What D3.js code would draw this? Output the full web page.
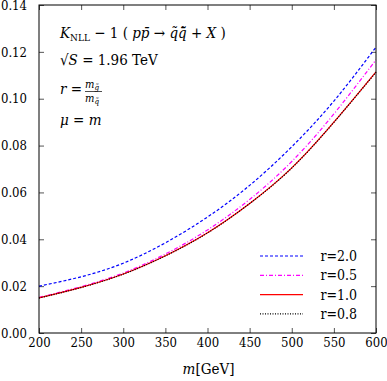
<!DOCTYPE html>
<meta charset="utf-8">
<style>
  body { margin: 0; background: #fff; }
  svg text { font-family: "DejaVu Serif Condensed", "DejaVu Serif", serif !important; font-stretch: condensed; }
</style>
<body>
<div class="chart"></div>
<script src="https://d3js.org/d3.v7.min.js"></script>
<script>
// m in GeV
const masses = [200, 250, 300, 350, 400, 450, 500, 550, 600];
// K_NLL - 1 for each mass ratio r
const r20 = [0.0200, 0.0240, 0.0298, 0.0385, 0.0495, 0.0630, 0.0795, 0.0990, 0.1220];
const r05 = [0.0152, 0.0198, 0.0256, 0.0337, 0.0440, 0.0570, 0.0732, 0.0935, 0.1166];
const r10 = [0.0150, 0.0195, 0.0252, 0.0330, 0.0428, 0.0553, 0.0705, 0.0900, 0.1115];
const r08 = [0.0149, 0.0194, 0.0251, 0.0329, 0.0427, 0.0552, 0.0704, 0.0899, 0.1113];
const xTicks = [200, 250, 300, 350, 400, 450, 500, 550, 600];
const yTicks = [0, 0.02, 0.04, 0.06, 0.08, 0.10, 0.12, 0.14];

const series = [
  {label: "r=2.0", values: r20, color: "#0000ff", dash: "3,2"},
  {label: "r=0.5", values: r05, color: "#ff00ff", dash: "4,2,1,2"},
  {label: "r=1.0", values: r10, color: "#ff0000", dash: null},
  {label: "r=0.8", values: r08, color: "#000000", dash: "1,1.5"}
];

const width = 387, height = 381;
const margin = {top: 5, right: 11, bottom: 48, left: 39};
const w = width - margin.left - margin.right;
const h = height - margin.top - margin.bottom;

const svg = d3.select(".chart").append("svg")
  .attr("width", width)
  .attr("height", height);

const g = svg.append("g")
  .attr("transform", `translate(${margin.left},${margin.top})`);

const x = d3.scaleLinear().domain([200, 600]).range([0, w]);
const y = d3.scaleLinear().domain([0, 0.14]).range([h, 0]);

// axes, ticks pointing inward
const styleAxis = sel => {
  sel.select(".domain").remove();
  sel.selectAll(".tick line").attr("stroke", "#555");
  sel.selectAll(".tick text").attr("font-size", 13).attr("fill", "#000");
};

g.append("g").attr("transform", `translate(0,${h})`)
  .call(d3.axisBottom(x).tickValues(xTicks).tickSize(-5).tickPadding(5).tickFormat(d3.format("d")))
  .call(styleAxis);
g.append("g")
  .call(d3.axisTop(x).tickValues(xTicks).tickSize(-5).tickFormat(""))
  .call(styleAxis);
g.append("g")
  .call(d3.axisLeft(y).tickValues(yTicks).tickSize(-5).tickPadding(12).tickFormat(d3.format(".2f")))
  .call(styleAxis);
g.append("g").attr("transform", `translate(${w},0)`)
  .call(d3.axisRight(y).tickValues(yTicks).tickSize(-5).tickFormat(""))
  .call(styleAxis);

// curves
const line = d3.line()
  .x((d, i) => x(masses[i]))
  .y(d => y(d))
  .curve(d3.curveNatural);

g.append("g").attr("fill", "none")
  .selectAll("path")
  .data(series)
  .join("path")
  .attr("d", d => line(d.values))
  .attr("stroke", d => d.color)
  .attr("stroke-width", 1.2)
  .attr("stroke-dasharray", d => d.dash);

// frame
g.append("rect")
  .attr("width", w).attr("height", h)
  .attr("fill", "none").attr("stroke", "#000").attr("stroke-width", 1);

// legend
const legend = g.append("g").attr("transform", "translate(221,251)")
  .selectAll("g")
  .data(series)
  .join("g")
  .attr("transform", (d, i) => `translate(0,${i * 19.3})`);
legend.append("line")
  .attr("x1", 0).attr("x2", 43)
  .attr("stroke", d => d.color)
  .attr("stroke-width", 1.2)
  .attr("stroke-dasharray", d => d.dash);
legend.append("text")
  .attr("x", 97).attr("y", 5)
  .attr("text-anchor", "end")
  .attr("font-size", 14)
  .text(d => d.label);

// annotation
const ann = g.append("g").attr("font-size", 15);
const t1 = ann.append("text").attr("x", 21).attr("y", 33);
t1.append("tspan").attr("font-style", "italic").text("K");
t1.append("tspan").attr("font-size", 10).attr("dy", 3).text("NLL");
t1.append("tspan").attr("dy", -3).text(" \u2212 1 ( ");
t1.append("tspan").attr("font-style", "italic").text("pp\u0304");
t1.append("tspan").text(" \u2192 ");
t1.append("tspan").attr("font-style", "italic").text("q\u0303q\u0303\u0304");
t1.append("tspan").text(" + ");
t1.append("tspan").attr("font-style", "italic").text("X");
t1.append("tspan").text(" )");

const t2 = ann.append("text").attr("x", 21).attr("y", 60);
t2.append("tspan").text("\u221A");
t2.append("tspan").attr("font-style", "italic").text("S");
t2.append("tspan").text(" = 1.96 TeV");

const t3 = ann.append("text").attr("x", 21).attr("y", 89);
t3.append("tspan").attr("font-style", "italic").text("r");
t3.append("tspan").text(" =");
const fr = ann.append("g").attr("transform", "translate(46,0)");
const num = fr.append("text").attr("x", 0).attr("y", 83).attr("font-size", 11);
num.append("tspan").attr("font-style", "italic").text("m");
num.append("tspan").attr("font-style", "italic").attr("font-size", 8).attr("dy", 2).text("g\u0303");
fr.append("line").attr("x1", 0).attr("x2", 17).attr("y1", 86.5).attr("y2", 86.5)
  .attr("stroke", "#000").attr("stroke-width", 0.7);
const den = fr.append("text").attr("x", 0).attr("y", 97).attr("font-size", 11);
den.append("tspan").attr("font-style", "italic").text("m");
den.append("tspan").attr("font-style", "italic").attr("font-size", 8).attr("dy", 2).text("q\u0303");

const t4 = ann.append("text").attr("x", 21).attr("y", 120);
t4.append("tspan").attr("font-style", "italic").text("\u03BC");
t4.append("tspan").text(" = ");
t4.append("tspan").attr("font-style", "italic").text("m");

// x-axis title
const xt = svg.append("text")
  .attr("x", margin.left + w / 2 + 1).attr("y", 374)
  .attr("text-anchor", "middle").attr("font-size", 15);
xt.append("tspan").attr("font-style", "italic").text("m");
xt.append("tspan").text("[GeV]");
</script>
</body>
